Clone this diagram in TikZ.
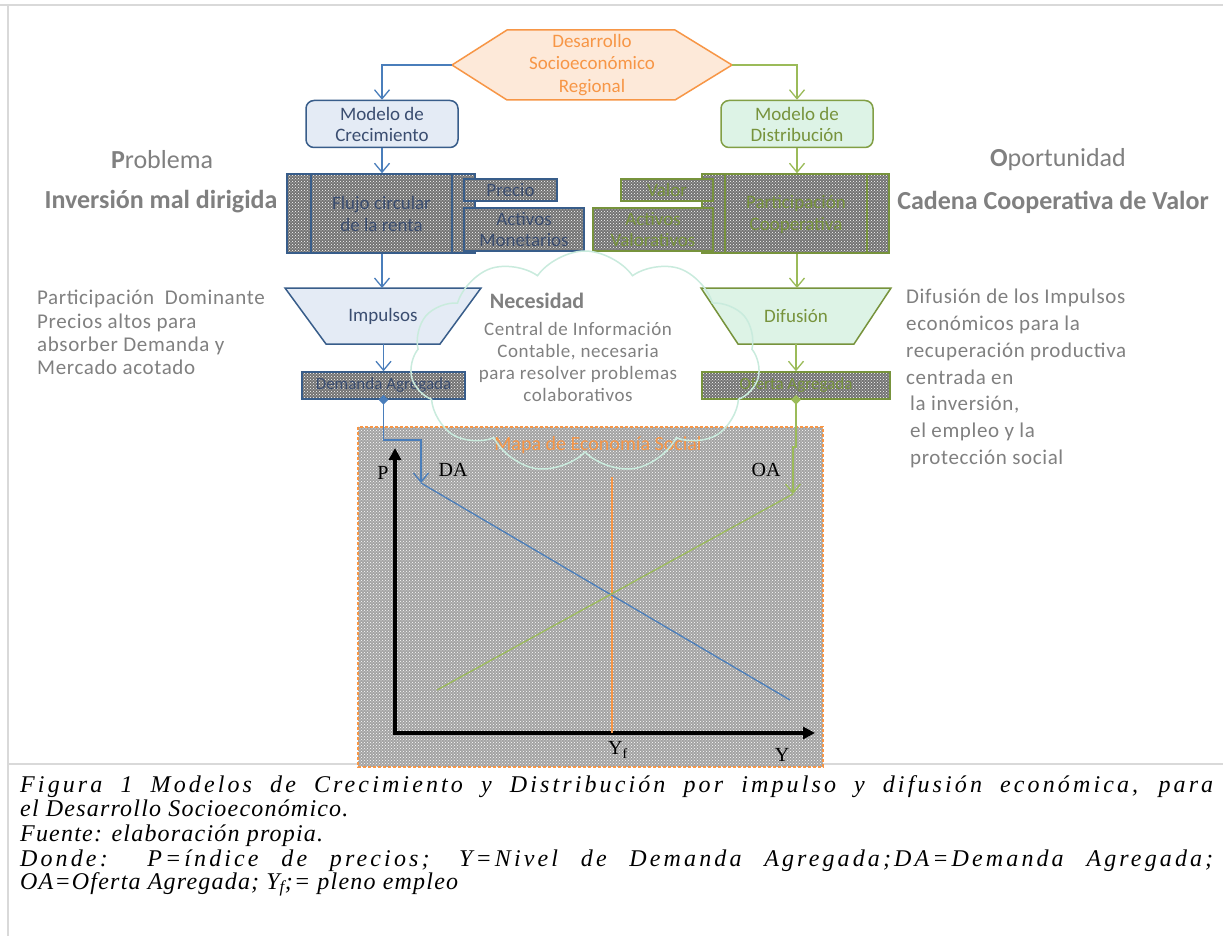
\documentclass[tikz,border=0pt]{standalone}
\usepackage{fontspec}
\usepackage{graphicx}
\usetikzlibrary{arrows.meta,patterns,shapes.geometric,shapes.symbols}
\newfontfamily\calib{Carlito}
\newfontfamily\calsp[LetterSpace=3]{Carlito}
\newfontfamily\tms{Liberation Serif}
\newfontfamily\capf[LetterSpace=13]{Liberation Serif}
\newfontfamily\capn[LetterSpace=5]{Liberation Serif}
\newcommand\fsz[2]{\fontsize{#1}{#2}\selectfont}
\definecolor{bluel}{HTML}{4A7EBB}
\definecolor{greenl}{HTML}{9BBB59}
\definecolor{orangel}{HTML}{F79646}
\definecolor{bborder}{HTML}{385D8A}
\definecolor{gborder}{HTML}{77933C}
\definecolor{btext}{HTML}{3A4D70}
\definecolor{gtext}{HTML}{77933C}
\definecolor{txtgray}{HTML}{808080}
\definecolor{cloudc}{HTML}{C9EBDD}
\definecolor{framec}{HTML}{D9D9D9}
\definecolor{hexfill}{HTML}{FDE9D9}
\definecolor{bfill}{HTML}{E4EBF5}
\definecolor{gfill}{HTML}{DDF3E6}
\tikzset{
  barrow/.style={draw=bluel, line width=1.3pt, -{Straight Barb[length=9pt,width=15pt]}},
  garrow/.style={draw=greenl, line width=1.3pt, -{Straight Barb[length=9pt,width=15pt]}},
  hatchB/.style={draw=bborder, line width=1.5pt, preaction={fill=black!55}, pattern=crosshatch dots, pattern color=white, text=btext, inner sep=0pt},
  hatchG/.style={draw=gborder, line width=1.5pt, preaction={fill=black!55}, pattern=crosshatch dots, pattern color=white, text=gtext, inner sep=0pt},
  modelB/.style={draw=bborder, line width=1.5pt, fill=bfill, rounded corners=8pt, text=btext, minimum width=152pt, minimum height=47pt, align=center, font=\calib\fsz{19}{21}},
  modelG/.style={draw=gborder!70!greenl, line width=1.5pt, fill=gfill, rounded corners=8pt, text=gtext, minimum width=152pt, minimum height=47pt, align=center, font=\calib\fsz{19}{21}},
  hatchtxt/.style={font=\calib\fsz{19}{22}, align=center},
  graytxt/.style={text=txtgray, font=\calsp\fsz{21}{23.3}, align=left},
  lbl/.style={font=\tms\fsz{20}{22}, text=black, inner sep=0pt},
  capt/.style={anchor=base west, font=\capf\itshape\fsz{24}{26}, inner sep=0pt},
  captn/.style={anchor=base west, font=\capn\itshape\fsz{24}{26}, inner sep=0pt},
  axisst/.style={line width=3.5pt, draw=black, -{Triangle[length=12pt,width=12pt]}},
  mapst/.style={draw=orangel, dash pattern=on 3pt off 2pt, line width=1.5pt, preaction={fill=black!36}, pattern=crosshatch dots, pattern color=white},
}
\begin{document}
\begin{tikzpicture}[x=1pt,y=-1pt]
\useasboundingbox (0,0) rectangle (1223,936);
\fill[white] (0,0) rectangle (1223,936);
% frame
\draw[framec, line width=2pt] (0,5) -- (1223,5);
\draw[framec, line width=2pt] (8,5) -- (8,936);
\draw[framec, line width=2pt] (8,764) -- (1223,764);

% map background
\draw[mapst] (358,427) rectangle (823,767);
\node[text=orangel, font=\calib\fsz{20}{22}] (maptitle) at (598,445) {Mapa de Economía Social};

% hexagon
\draw[draw=orangel, line width=1.5pt, fill=hexfill] (452,65) -- (507,30) -- (675,30) -- (732,65) -- (675,100) -- (507,100) -- cycle;
\node[text=orangel, font=\calib\fsz{19}{22.5}, align=center] (hex) at (592,65) {Desarrollo\\Socioeconómico\\Regional};
\coordinate (hexL) at (452,65);
\coordinate (hexR) at (732,65);

% models
\node[modelB] (mc) at (382,124) {Modelo de\\Crecimiento};
\node[modelG] (md) at (797,124) {Modelo de\\Distribución};
\draw[barrow] (hexL) -| (mc.north);
\draw[garrow] (hexR) -| (md.north);

% left hatched block
\node[hatchB, minimum width=188pt, minimum height=79pt] (flujo) at (381,213.5) {};
\draw[bborder, line width=1.2pt] (311,174) -- (311,253);
\draw[bborder, line width=1.2pt] (452,174) -- (452,253);
\node[hatchtxt, text=btext] (flujot) at (381.5,214) {Flujo circular\\de la renta};
\node[hatchB, minimum width=93pt, minimum height=22pt, font=\calib\fsz{19}{22}] (precio) at (510.5,190) {Precio};
\node[hatchB, minimum width=120pt, minimum height=43pt, font=\calib\fsz{19}{21}, align=center] (actm) at (524,229.5) {Activos\\Monetarios};

% right hatched block
\node[hatchG, minimum width=187pt, minimum height=79pt] (partc) at (795.5,213.5) {};
\draw[gborder, line width=1.2pt] (725,174) -- (725,253);
\draw[gborder, line width=1.2pt] (867,174) -- (867,253);
\node[hatchtxt, text=gtext] (partt) at (796,214) {Participación\\Cooperativa};
\node[hatchG, minimum width=92pt, minimum height=22pt, font=\calib\fsz{19}{22}] (valor) at (667,190) {Valor};
\node[hatchG, minimum width=120pt, minimum height=43pt, font=\calib\fsz{19}{21}, align=center] (actv) at (653,229.5) {Activos\\Valorativos};

\draw[barrow] (mc.south) -- (mc.south |- flujo.north);
\draw[garrow] (md.south) -- (md.south |- partc.north);

% trapezoids
\draw[draw=bborder, line width=1.5pt, fill=bfill] (285,288) -- (481,288) -- (440,344) -- (326,344) -- cycle;
\node[text=btext, font=\calib\fsz{19}{22}] (imp) at (383,316) {Impulsos};
\coordinate (impT) at (382,288);
\coordinate (impB) at (383.5,344);
\draw[draw=gborder, line width=1.5pt, fill=gfill] (701,288) -- (891,288) -- (854,344) -- (738,344) -- cycle;
\node[text=gtext, font=\calib\fsz{19}{22}] (dif) at (796,316) {Difusión};
\coordinate (difT) at (797,288);
\coordinate (difB) at (796,344);

\draw[barrow] (flujo.south -| impT) -- (impT);
\draw[garrow] (partc.south -| difT) -- (difT);

% aggregate boxes
\node[hatchB, minimum width=163pt, minimum height=27pt, font=\calib\fsz{17}{20}] (dem) at (383.5,385.5) {Demanda Agregada};
\node[hatchG, minimum width=188pt, minimum height=27pt, font=\calib\fsz{17}{20}] (ofe) at (796,385.5) {Oferta Agregada};
\draw[barrow] (impB) -- (impB |- dem.north);
\draw[garrow] (difB) -- (difB |- ofe.north);

% axes and curves
\coordinate (da1) at (421,483);
\coordinate (da2) at (790,700);
\coordinate (oa1) at (793,494);
\coordinate (oa2) at (437,690);
\draw[axisst] (395,735) -- (395,448);
\draw[axisst] (393,733) -- (815,733);
\draw[orangel, line width=1.8pt] (612,477) -- (612,733);
\draw[bluel, line width=1.3pt] (da1) -- (da2);
\draw[greenl, line width=1.3pt] (oa2) -- (oa1);
\draw[barrow] (dem.south) -- (dem.south |- 0,440) -- (421,440) -- (da1);
\draw[garrow] (ofe.south) -- (ofe.south |- 0,447) -- (793,447) -- (oa1);
\node[diamond, fill=bluel, inner sep=0pt, minimum size=10pt] (dmB) at (dem.south) {};
\node[diamond, fill=greenl, inner sep=0pt, minimum size=10pt] (dmG) at (ofe.south) {};

\node[lbl] (P) at (383,473) {P};
\node[lbl] (DA) at (453,470) {DA};
\node[lbl] (OA) at (766,470) {OA};
\node[lbl] (Yf) at (618,750) {Y\textsubscript{f}};
\node[lbl] (Y) at (782,755) {Y};

% cloud
\node[cloud, cloud puffs=11, cloud puff arc=110, aspect=1.6, draw=cloudc, line width=1.5pt, minimum width=350pt, minimum height=222pt, inner sep=0pt] (cl) at (585,362) {};
\node[text=txtgray, font=\calib\bfseries\fsz{22}{24}] (nec) at (537,301) {Necesidad};
\node[text=txtgray, font=\calsp\fsz{19}{22}, align=center] (nect) at (578,362) {Central de Información\\Contable, necesaria\\para resolver problemas\\colaborativos};

% side texts
\node[text=txtgray, font=\calib\fsz{26}{28}] (prob) at (162,160) {{\bfseries P}roblema};
\node[text=txtgray, font=\calib\bfseries\fsz{26}{28}] (inv) at (161,202) {Inversión mal dirigida};
\node[graytxt, anchor=north west, inner sep=0pt] (ltxt) at (37,290) {Participación~ Dominante\\Precios altos para\\absorber Demanda y\\Mercado acotado};
\node[text=txtgray, font=\calib\fsz{26}{28}] (opo) at (1058,160) {{\bfseries O}portunidad};
\node[text=txtgray, font=\calib\bfseries\fsz{26}{28}] (cad) at (1053,202) {Cadena Cooperativa de Valor};
\node[graytxt, anchor=north west, inner sep=0pt, font=\calsp\fsz{21}{26.8}] (rtxt) at (906,289) {Difusión de los Impulsos\\económicos para la\\recuperación productiva\\centrada en\\\hspace*{4pt}la inversión,\\\hspace*{4pt}el empleo y la\\\hspace*{4pt}protección social};

% caption
\node[capt] (c1) at (20,792) {\makebox[1193pt][s]{Figura 1 Modelos de Crecimiento y Distribución por impulso y difusión económica, para}};
\node[captn] (c2) at (20,816) {el Desarrollo Socioeconómico.};
\node[captn] (c3) at (20,841) {Fuente: elaboración propia.};
\node[capt] (c4) at (20,866) {\makebox[1193pt][s]{Donde: P=índice de precios; Y=Nivel de Demanda Agregada;DA=Demanda Agregada;}};
\node[captn] (c5) at (20,889) {OA=Oferta Agregada; Y\textsubscript{f};= pleno empleo};
\end{tikzpicture}
\end{document}
